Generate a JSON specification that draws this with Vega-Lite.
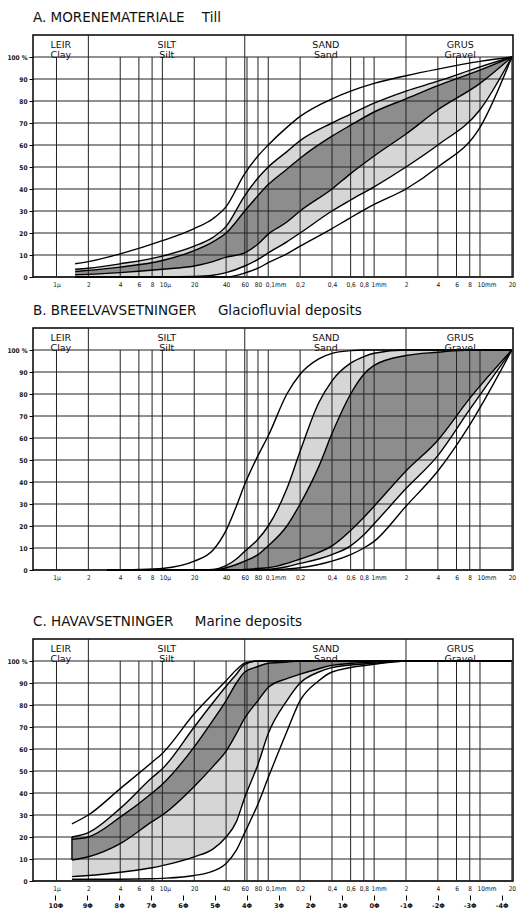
{
  "$schema": "https://vega.github.io/schema/vega-lite/v6.json",
  "background": "white",
  "padding": {"left": 5, "top": 10, "right": 4, "bottom": 0},
  "config": {
    "view": {"stroke": "black", "strokeWidth": 1.5},
    "font": "DejaVu Sans",
    "title": {"anchor": "start", "frame": "group", "fontSize": 13.5, "fontWeight": "normal", "font": "DejaVu Sans", "offset": 10, "color": "#111"},
    "axis": {"labelFont": "Liberation Sans Narrow, DejaVu Sans Condensed, Liberation Sans, sans-serif", "labelColor": "#111", "domain": false, "grid": false},
    "axisY": {"labelFontSize": 6.5, "labelFontWeight": "bold", "labelOverlap": false, "labelBound": false, "labelFlush": false, "ticks": true, "tickSize": 4, "tickColor": "black", "labelPadding": 2, "minExtent": 27, "maxExtent": 27},
    "axisX": {"labelFontSize": 6.5, "ticks": false, "labelPadding": 4, "labelOverlap": false, "labelBound": false, "labelFlush": false},
    "concat": {"spacing": 14}
  },
  "datasets": {
    "A": [
      {"x": 1.5, "c1": 6, "c2": 3.5, "c3": 2.5, "c4": 1, "c5": 0, "c6": 0},
      {"x": 2, "c1": 7, "c2": 4, "c3": 3, "c4": 1.2, "c5": 0, "c6": 0},
      {"x": 4, "c1": 10.5, "c2": 6, "c3": 4.5, "c4": 2, "c5": 0, "c6": 0},
      {"x": 10, "c1": 16.5, "c2": 9.5, "c3": 7.5, "c4": 3.5, "c5": 0, "c6": 0},
      {"x": 20, "c1": 22, "c2": 14, "c3": 12, "c4": 5, "c5": 0.2, "c6": 0},
      {"x": 30, "c1": 26.5, "c2": 18, "c3": 16, "c4": 7, "c5": 0.8, "c6": 0},
      {"x": 40, "c1": 32, "c2": 23, "c3": 20, "c4": 9, "c5": 2, "c6": 0},
      {"x": 60, "c1": 47, "c2": 37, "c3": 30, "c4": 11, "c5": 5, "c6": 1.8},
      {"x": 80, "c1": 55, "c2": 45, "c3": 37, "c4": 15, "c5": 8, "c6": 4},
      {"x": 100, "c1": 60, "c2": 50, "c3": 42, "c4": 19.5, "c5": 11, "c6": 6.5},
      {"x": 150, "c1": 68, "c2": 57, "c3": 49, "c4": 25, "c5": 16, "c6": 10.5},
      {"x": 200, "c1": 73, "c2": 62, "c3": 54, "c4": 30, "c5": 20, "c6": 14},
      {"x": 400, "c1": 81, "c2": 70, "c3": 64, "c4": 40, "c5": 30, "c6": 22},
      {"x": 600, "c1": 84.5, "c2": 74, "c3": 69, "c4": 47, "c5": 35, "c6": 27},
      {"x": 1000, "c1": 88, "c2": 79, "c3": 75, "c4": 55, "c5": 41, "c6": 33},
      {"x": 2000, "c1": 91.5, "c2": 84.5, "c3": 81, "c4": 65, "c5": 50, "c6": 40},
      {"x": 4000, "c1": 94.5, "c2": 89, "c3": 87, "c4": 76, "c5": 60, "c6": 50},
      {"x": 10000, "c1": 98, "c2": 95.5, "c3": 94, "c4": 88, "c5": 76, "c6": 68},
      {"x": 20000, "c1": 100, "c2": 100, "c3": 100, "c4": 100, "c5": 100, "c6": 100}
    ],
    "B": [
      {"x": 3, "c1": 0, "c2": 0, "c3": 0, "c4": 0, "c5": 0, "c6": 0},
      {"x": 6, "c1": 0.2, "c2": 0, "c3": 0, "c4": 0, "c5": 0, "c6": 0},
      {"x": 10, "c1": 0.7, "c2": 0, "c3": 0, "c4": 0, "c5": 0, "c6": 0},
      {"x": 20, "c1": 4, "c2": 0, "c3": 0, "c4": 0, "c5": 0, "c6": 0},
      {"x": 30, "c1": 9, "c2": 0.3, "c3": 0, "c4": 0, "c5": 0, "c6": 0},
      {"x": 40, "c1": 18, "c2": 2, "c3": 1, "c4": 0, "c5": 0, "c6": 0},
      {"x": 50, "c1": 29, "c2": 5, "c3": 2.5, "c4": 0, "c5": 0, "c6": 0},
      {"x": 60, "c1": 39, "c2": 8.5, "c3": 4, "c4": 0.3, "c5": 0, "c6": 0},
      {"x": 80, "c1": 52, "c2": 14, "c3": 7, "c4": 0.7, "c5": 0, "c6": 0},
      {"x": 100, "c1": 61, "c2": 20, "c3": 11, "c4": 1, "c5": 0.3, "c6": 0},
      {"x": 150, "c1": 80, "c2": 37, "c3": 20, "c4": 3, "c5": 1.5, "c6": 0.5},
      {"x": 200, "c1": 89, "c2": 54, "c3": 30, "c4": 5, "c5": 3, "c6": 1},
      {"x": 300, "c1": 96, "c2": 76, "c3": 47, "c4": 8, "c5": 5, "c6": 2.5},
      {"x": 400, "c1": 98.5, "c2": 86, "c3": 62, "c4": 11, "c5": 7, "c6": 4},
      {"x": 600, "c1": 99.7, "c2": 94, "c3": 80, "c4": 18, "c5": 11, "c6": 7},
      {"x": 800, "c1": 100, "c2": 97, "c3": 89, "c4": 24, "c5": 16, "c6": 10},
      {"x": 1000, "c1": 100, "c2": 98.5, "c3": 93, "c4": 29, "c5": 21, "c6": 13},
      {"x": 2000, "c1": 100, "c2": 100, "c3": 97.5, "c4": 45, "c5": 37, "c6": 29},
      {"x": 4000, "c1": 100, "c2": 100, "c3": 99, "c4": 59, "c5": 52, "c6": 45},
      {"x": 8000, "c1": 100, "c2": 100, "c3": 100, "c4": 78, "c5": 73, "c6": 66},
      {"x": 20000, "c1": 100, "c2": 100, "c3": 100, "c4": 100, "c5": 100, "c6": 100}
    ],
    "C": [
      {"x": 1.4, "c1": 26, "c2": 20, "c3": 19, "c4": 9.5, "c5": 2, "c6": 0.8},
      {"x": 2, "c1": 30, "c2": 22, "c3": 20, "c4": 11, "c5": 2.5, "c6": 0.8},
      {"x": 4, "c1": 42, "c2": 33, "c3": 29, "c4": 17, "c5": 4, "c6": 0.8},
      {"x": 8, "c1": 54, "c2": 47, "c3": 40, "c4": 27, "c5": 6, "c6": 1},
      {"x": 10, "c1": 58, "c2": 51, "c3": 44, "c4": 30, "c5": 7, "c6": 1.2},
      {"x": 20, "c1": 76, "c2": 70, "c3": 61, "c4": 43, "c5": 11, "c6": 2.5},
      {"x": 30, "c1": 85, "c2": 81, "c3": 73, "c4": 52, "c5": 14.5, "c6": 4.5},
      {"x": 40, "c1": 91, "c2": 88.5, "c3": 82, "c4": 59, "c5": 20, "c6": 8},
      {"x": 50, "c1": 96, "c2": 94, "c3": 90, "c4": 67, "c5": 27, "c6": 14},
      {"x": 60, "c1": 99, "c2": 98.5, "c3": 95, "c4": 74, "c5": 38, "c6": 22},
      {"x": 80, "c1": 100, "c2": 100, "c3": 97.5, "c4": 82, "c5": 53, "c6": 35},
      {"x": 100, "c1": 100, "c2": 100, "c3": 99, "c4": 88, "c5": 67, "c6": 47},
      {"x": 150, "c1": 100, "c2": 100, "c3": 99.5, "c4": 92, "c5": 82, "c6": 68},
      {"x": 200, "c1": 100, "c2": 100, "c3": 100, "c4": 94, "c5": 90, "c6": 82},
      {"x": 300, "c1": 100, "c2": 100, "c3": 100, "c4": 96.5, "c5": 95, "c6": 91},
      {"x": 400, "c1": 100, "c2": 100, "c3": 100, "c4": 98, "c5": 97, "c6": 95},
      {"x": 1000, "c1": 100, "c2": 100, "c3": 100, "c4": 99.5, "c5": 99, "c6": 98.5},
      {"x": 2000, "c1": 100, "c2": 100, "c3": 100, "c4": 100, "c5": 100, "c6": 100},
      {"x": 20000, "c1": 100, "c2": 100, "c3": 100, "c4": 100, "c5": 100, "c6": 100}
    ],
    "Cedge": [{"x": 1.4, "lo": 9.5, "hi": 20}],
    "vg": [
      {"x": 1, "b": 0, "top": 100}, {"x": 2, "b": 0, "top": 110}, {"x": 4, "b": 0, "top": 100}, {"x": 6, "b": 0, "top": 100}, {"x": 8, "b": 0, "top": 100},
      {"x": 10, "b": 0, "top": 100}, {"x": 20, "b": 0, "top": 100}, {"x": 40, "b": 0, "top": 100}, {"x": 60, "b": 0, "top": 110}, {"x": 63, "b": 0, "top": 100},
      {"x": 80, "b": 0, "top": 100}, {"x": 100, "b": 0, "top": 100}, {"x": 200, "b": 0, "top": 100}, {"x": 400, "b": 0, "top": 100}, {"x": 600, "b": 0, "top": 100},
      {"x": 800, "b": 0, "top": 100}, {"x": 1000, "b": 0, "top": 100}, {"x": 2000, "b": 0, "top": 110}, {"x": 4000, "b": 0, "top": 100}, {"x": 6000, "b": 0, "top": 100},
      {"x": 8000, "b": 0, "top": 100}, {"x": 10000, "b": 0, "top": 100}, {"x": 20000, "b": 0, "top": 100}
    ],
    "hg": [{"y": 0}, {"y": 10}, {"y": 20}, {"y": 30}, {"y": 40}, {"y": 50}, {"y": 60}, {"y": 70}, {"y": 80}, {"y": 90}, {"y": 100}],
    "hdr": [
      {"x": 1.1, "y": 105.3, "t": "LEIR\nClay"},
      {"x": 11, "y": 105.3, "t": "SILT\nSilt"},
      {"x": 350, "y": 105.3, "t": "SAND\nSand"},
      {"x": 6500, "y": 105.3, "t": "GRUS\nGravel"}
    ],
    "phi": [
      {"x": 0.9765625}, {"x": 1.953125}, {"x": 3.90625}, {"x": 7.8125}, {"x": 15.625}, {"x": 31.25}, {"x": 62.5},
      {"x": 125}, {"x": 250}, {"x": 500}, {"x": 1000}, {"x": 2000}, {"x": 4000}, {"x": 8000}, {"x": 16000}
    ]
  },
  "vconcat": [
    {
      "title": {"text": "A. MORENEMATERIALE\u00a0\u00a0\u00a0\u00a0Till"},
      "width": 480, "height": 242,
      "layer": [
        {"data": {"name": "A"}, "mark": {"type": "area", "color": "#d6d6d6", "interpolate": "monotone"},
         "encoding": {
           "x": {"field": "x", "type": "quantitative", "scale": {"type": "log", "domain": [0.6, 20500], "nice": false},
                 "axis": {"values": [1,2,4,6,8,10,20,40,60,80,100,200,400,600,800,1000,2000,4000,6000,8000,10000,20000], "labelExpr": "datum.value == 1 ? '1µ' : datum.value == 10 ? '10µ' : datum.value == 100 ? '0,1mm' : datum.value == 1000 ? '1mm' : datum.value == 10000 ? '10mm' : datum.value < 100 ? datum.value : datum.value < 1000 ? '0,' + datum.value / 100 : datum.value / 1000", "labelAlign": {"condition": {"test": "datum.value == 10 || datum.value == 100 || datum.value == 1000 || datum.value == 10000", "value": "left"}, "value": "center"}, "labelOffset": {"condition": {"test": "datum.value == 10 || datum.value == 100 || datum.value == 1000 || datum.value == 10000", "value": -3}, "value": 0}, "title": null}},
           "y": {"field": "c2", "type": "quantitative", "scale": {"domain": [0, 110], "nice": false, "zero": false},
                 "axis": {"values": [0,10,20,30,40,50,60,70,80,90,100], "labelExpr": "datum.value == 100 ? '100 %' : datum.value", "title": null}},
           "y2": {"field": "c5"}
         }},
        {"data": {"name": "A"}, "mark": {"type": "area", "color": "#8d8d8d", "interpolate": "monotone"},
         "encoding": {"x": {"field": "x", "type": "quantitative", "axis": {"title": null}}, "y": {"field": "c3", "type": "quantitative", "axis": {"values": [0,10,20,30,40,50,60,70,80,90,100], "labelExpr": "datum.value == 100 ? '100 %' : datum.value", "title": null}}, "y2": {"field": "c4"}}},
        {"data": {"name": "vg"}, "mark": {"type": "rule", "color": "#222", "strokeWidth": 1},
         "encoding": {"x": {"field": "x", "type": "quantitative", "axis": {"title": null}}, "y": {"field": "b", "type": "quantitative", "axis": {"values": [0,10,20,30,40,50,60,70,80,90,100], "labelExpr": "datum.value == 100 ? '100 %' : datum.value", "title": null}}, "y2": {"field": "top"}}},
        {"data": {"name": "hg"}, "mark": {"type": "rule", "color": "#222", "strokeWidth": 1},
         "encoding": {"y": {"field": "y", "type": "quantitative", "axis": {"values": [0,10,20,30,40,50,60,70,80,90,100], "labelExpr": "datum.value == 100 ? '100 %' : datum.value", "title": null}}}},
        {"data": {"name": "A"}, "transform": [{"fold": ["c1","c2","c3","c4","c5","c6"], "as": ["curve", "pct"]}],
         "mark": {"type": "line", "color": "black", "strokeWidth": 1.4, "interpolate": "monotone"},
         "encoding": {"x": {"field": "x", "type": "quantitative", "axis": {"title": null}}, "y": {"field": "pct", "type": "quantitative", "axis": {"values": [0,10,20,30,40,50,60,70,80,90,100], "labelExpr": "datum.value == 100 ? '100 %' : datum.value", "title": null}}, "detail": {"field": "curve", "type": "nominal"}}},
        {"data": {"name": "hdr"}, "mark": {"type": "text", "lineBreak": "\n", "fontSize": 9.5, "lineHeight": 10, "baseline": "middle", "color": "#111"},
         "encoding": {"x": {"field": "x", "type": "quantitative", "axis": {"title": null}}, "y": {"field": "y", "type": "quantitative", "axis": {"values": [0,10,20,30,40,50,60,70,80,90,100], "labelExpr": "datum.value == 100 ? '100 %' : datum.value", "title": null}}, "text": {"field": "t", "type": "nominal"}}}
      ]
    },
    {
      "title": {"text": "B. BREELVAVSETNINGER\u00a0\u00a0\u00a0\u00a0\u00a0Glaciofluvial deposits"},
      "width": 480, "height": 242,
      "layer": [
        {"data": {"name": "B"}, "mark": {"type": "area", "color": "#d6d6d6", "interpolate": "monotone"},
         "encoding": {
           "x": {"field": "x", "type": "quantitative", "scale": {"type": "log", "domain": [0.6, 20500], "nice": false},
                 "axis": {"values": [1,2,4,6,8,10,20,40,60,80,100,200,400,600,800,1000,2000,4000,6000,8000,10000,20000], "labelExpr": "datum.value == 1 ? '1µ' : datum.value == 10 ? '10µ' : datum.value == 100 ? '0,1mm' : datum.value == 1000 ? '1mm' : datum.value == 10000 ? '10mm' : datum.value < 100 ? datum.value : datum.value < 1000 ? '0,' + datum.value / 100 : datum.value / 1000", "labelAlign": {"condition": {"test": "datum.value == 10 || datum.value == 100 || datum.value == 1000 || datum.value == 10000", "value": "left"}, "value": "center"}, "labelOffset": {"condition": {"test": "datum.value == 10 || datum.value == 100 || datum.value == 1000 || datum.value == 10000", "value": -3}, "value": 0}, "title": null}},
           "y": {"field": "c2", "type": "quantitative", "scale": {"domain": [0, 110], "nice": false, "zero": false},
                 "axis": {"values": [0,10,20,30,40,50,60,70,80,90,100], "labelExpr": "datum.value == 100 ? '100 %' : datum.value", "title": null}},
           "y2": {"field": "c5"}
         }},
        {"data": {"name": "B"}, "mark": {"type": "area", "color": "#8d8d8d", "interpolate": "monotone"},
         "encoding": {"x": {"field": "x", "type": "quantitative", "axis": {"title": null}}, "y": {"field": "c3", "type": "quantitative", "axis": {"values": [0,10,20,30,40,50,60,70,80,90,100], "labelExpr": "datum.value == 100 ? '100 %' : datum.value", "title": null}}, "y2": {"field": "c4"}}},
        {"data": {"name": "vg"}, "mark": {"type": "rule", "color": "#222", "strokeWidth": 1},
         "encoding": {"x": {"field": "x", "type": "quantitative", "axis": {"title": null}}, "y": {"field": "b", "type": "quantitative", "axis": {"values": [0,10,20,30,40,50,60,70,80,90,100], "labelExpr": "datum.value == 100 ? '100 %' : datum.value", "title": null}}, "y2": {"field": "top"}}},
        {"data": {"name": "hg"}, "mark": {"type": "rule", "color": "#222", "strokeWidth": 1},
         "encoding": {"y": {"field": "y", "type": "quantitative", "axis": {"values": [0,10,20,30,40,50,60,70,80,90,100], "labelExpr": "datum.value == 100 ? '100 %' : datum.value", "title": null}}}},
        {"data": {"name": "B"}, "transform": [{"fold": ["c1","c2","c3","c4","c5","c6"], "as": ["curve", "pct"]}],
         "mark": {"type": "line", "color": "black", "strokeWidth": 1.4, "interpolate": "monotone"},
         "encoding": {"x": {"field": "x", "type": "quantitative", "axis": {"title": null}}, "y": {"field": "pct", "type": "quantitative", "axis": {"values": [0,10,20,30,40,50,60,70,80,90,100], "labelExpr": "datum.value == 100 ? '100 %' : datum.value", "title": null}}, "detail": {"field": "curve", "type": "nominal"}}},
        {"data": {"name": "hdr"}, "mark": {"type": "text", "lineBreak": "\n", "fontSize": 9.5, "lineHeight": 10, "baseline": "middle", "color": "#111"},
         "encoding": {"x": {"field": "x", "type": "quantitative", "axis": {"title": null}}, "y": {"field": "y", "type": "quantitative", "axis": {"values": [0,10,20,30,40,50,60,70,80,90,100], "labelExpr": "datum.value == 100 ? '100 %' : datum.value", "title": null}}, "text": {"field": "t", "type": "nominal"}}}
      ]
    },
    {
      "title": {"text": ["", "C. HAVAVSETNINGER\u00a0\u00a0\u00a0\u00a0\u00a0Marine deposits"], "lineHeight": 18},
      "width": 480, "height": 242,
      "resolve": {"axis": {"x": "independent"}},
      "layer": [
        {"data": {"name": "C"}, "mark": {"type": "area", "color": "#d6d6d6", "interpolate": "monotone"},
         "encoding": {
           "x": {"field": "x", "type": "quantitative", "scale": {"type": "log", "domain": [0.6, 20500], "nice": false},
                 "axis": {"orient": "bottom", "values": [1,2,4,6,8,10,20,40,60,80,100,200,400,600,800,1000,2000,4000,6000,8000,10000,20000], "labelExpr": "datum.value == 1 ? '1µ' : datum.value == 10 ? '10µ' : datum.value == 100 ? '0,1mm' : datum.value == 1000 ? '1mm' : datum.value == 10000 ? '10mm' : datum.value < 100 ? datum.value : datum.value < 1000 ? '0,' + datum.value / 100 : datum.value / 1000", "labelAlign": {"condition": {"test": "datum.value == 10 || datum.value == 100 || datum.value == 1000 || datum.value == 10000", "value": "left"}, "value": "center"}, "labelOffset": {"condition": {"test": "datum.value == 10 || datum.value == 100 || datum.value == 1000 || datum.value == 10000", "value": -3}, "value": 0}, "title": null}},
           "y": {"field": "c2", "type": "quantitative", "scale": {"domain": [0, 110], "nice": false, "zero": false},
                 "axis": {"values": [0,10,20,30,40,50,60,70,80,90,100], "labelExpr": "datum.value == 100 ? '100 %' : datum.value", "title": null}},
           "y2": {"field": "c5"}
         }},
        {"data": {"name": "C"}, "mark": {"type": "area", "color": "#8d8d8d", "interpolate": "monotone"},
         "encoding": {"x": {"field": "x", "type": "quantitative", "axis": null}, "y": {"field": "c3", "type": "quantitative", "axis": {"values": [0,10,20,30,40,50,60,70,80,90,100], "labelExpr": "datum.value == 100 ? '100 %' : datum.value", "title": null}}, "y2": {"field": "c4"}}},
        {"data": {"name": "vg"}, "mark": {"type": "rule", "color": "#222", "strokeWidth": 1},
         "encoding": {"x": {"field": "x", "type": "quantitative", "axis": null}, "y": {"field": "b", "type": "quantitative", "axis": {"values": [0,10,20,30,40,50,60,70,80,90,100], "labelExpr": "datum.value == 100 ? '100 %' : datum.value", "title": null}}, "y2": {"field": "top"}}},
        {"data": {"name": "hg"}, "mark": {"type": "rule", "color": "#222", "strokeWidth": 1},
         "encoding": {"y": {"field": "y", "type": "quantitative", "axis": {"values": [0,10,20,30,40,50,60,70,80,90,100], "labelExpr": "datum.value == 100 ? '100 %' : datum.value", "title": null}}}},
        {"data": {"name": "C"}, "transform": [{"fold": ["c1","c2","c3","c4","c5","c6"], "as": ["curve", "pct"]}],
         "mark": {"type": "line", "color": "black", "strokeWidth": 1.4, "interpolate": "monotone"},
         "encoding": {"x": {"field": "x", "type": "quantitative", "axis": null}, "y": {"field": "pct", "type": "quantitative", "axis": {"values": [0,10,20,30,40,50,60,70,80,90,100], "labelExpr": "datum.value == 100 ? '100 %' : datum.value", "title": null}}, "detail": {"field": "curve", "type": "nominal"}}},
        {"data": {"name": "Cedge"}, "mark": {"type": "rule", "color": "black", "strokeWidth": 1.4},
         "encoding": {"x": {"field": "x", "type": "quantitative", "axis": null}, "y": {"field": "lo", "type": "quantitative", "axis": {"values": [0,10,20,30,40,50,60,70,80,90,100], "labelExpr": "datum.value == 100 ? '100 %' : datum.value", "title": null}}, "y2": {"field": "hi"}}},
        {"data": {"name": "hdr"}, "mark": {"type": "text", "lineBreak": "\n", "fontSize": 9.5, "lineHeight": 10, "baseline": "middle", "color": "#111"},
         "encoding": {"x": {"field": "x", "type": "quantitative", "axis": null}, "y": {"field": "y", "type": "quantitative", "axis": {"values": [0,10,20,30,40,50,60,70,80,90,100], "labelExpr": "datum.value == 100 ? '100 %' : datum.value", "title": null}}, "text": {"field": "t", "type": "nominal"}}},
        {"data": {"name": "phi"}, "mark": {"type": "point", "opacity": 0},
         "encoding": {"x": {"field": "x", "type": "quantitative",
                            "axis": {"orient": "bottom", "offset": 14, "values": [0.9765625, 1.953125, 3.90625, 7.8125, 15.625, 31.25, 62.5, 125, 250, 500, 1000, 2000, 4000, 8000, 16000], "labelExpr": "round(-log(datum.value / 1000) / LN2) + 'Φ'", "labelFont": "DejaVu Sans", "labelFontWeight": "bold", "ticks": true, "tickSize": 5, "tickColor": "black", "labelPadding": 2, "title": null}}}}
      ]
    }
  ]
}
